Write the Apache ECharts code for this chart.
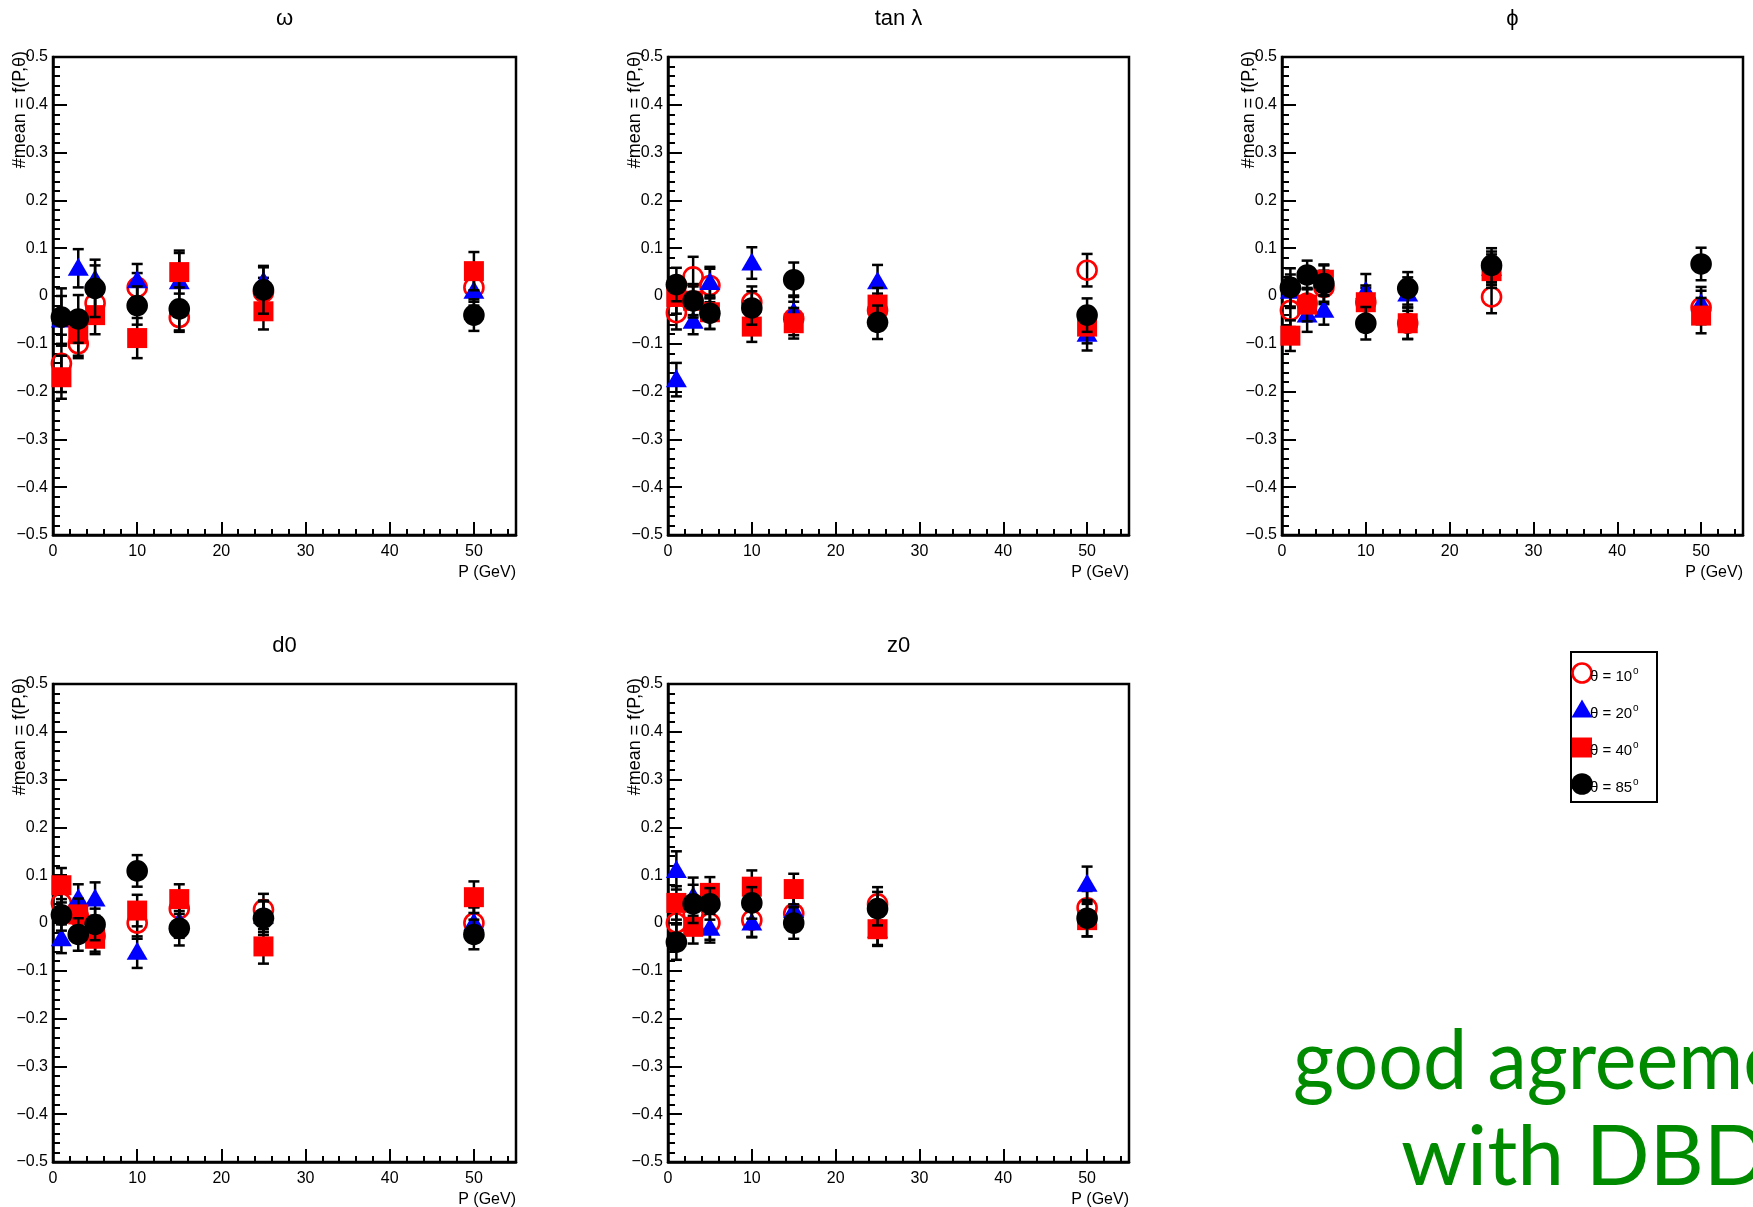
<!DOCTYPE html>
<html><head><meta charset="utf-8">
<script src="https://cdn.jsdelivr.net/npm/echarts@6/dist/echarts.min.js"></script>
<style>html,body{margin:0;padding:0;background:#fff}#c{width:1753px;height:1207px}</style>
</head><body><div id="c"></div>
<script>
// ---------------- DATA ----------------
const momenta = [1, 3, 5, 10, 15, 25, 50];
const panelTitles = ['ω', 'tan λ', 'ϕ', 'd0', 'z0'];
const seriesNames = ['θ = 10', 'θ = 20', 'θ = 40', 'θ = 85'];
const yAxisTitle = '#mean = f(P,θ)';
const xAxisTitle = 'P (GeV)';
const noteLines = ['good agreement', 'with DBD'];

// omega
const omega_t10 = [-0.141, -0.100, -0.015, 0.018, -0.045, 0.008, 0.018];
const omega_t20 = [-0.050, 0.058, 0.034, 0.032, 0.030, 0.030, 0.010];
const omega_t40 = [-0.170, -0.080, -0.040, -0.088, 0.050, -0.032, 0.052];
const omega_t85 = [-0.044, -0.048, 0.016, -0.020, -0.027, 0.013, -0.040];
const omega_e10 = [0.060, 0.030, 0.030, 0.030, 0.030, 0.030, 0.030];
const omega_e20 = [0.050, 0.040, 0.030, 0.035, 0.060, 0.030, 0.030];
const omega_e40 = [0.045, 0.045, 0.040, 0.042, 0.045, 0.038, 0.040];
const omega_e85 = [0.060, 0.050, 0.060, 0.040, 0.045, 0.050, 0.033];
// tan lambda
const tanl_t10 = [-0.035, 0.040, 0.022, -0.013, -0.047, -0.030, 0.054];
const tanl_t20 = [-0.175, -0.053, 0.028, 0.069, -0.034, 0.030, -0.080];
const tanl_t40 = [-0.002, -0.010, -0.034, -0.064, -0.057, -0.018, -0.064];
const tanl_t85 = [0.024, -0.010, -0.036, -0.025, 0.034, -0.055, -0.040];
const tanl_e10 = [0.035, 0.042, 0.035, 0.033, 0.035, 0.035, 0.034];
const tanl_e20 = [0.035, 0.027, 0.033, 0.033, 0.035, 0.035, 0.034];
const tanl_e40 = [0.035, 0.035, 0.035, 0.032, 0.032, 0.035, 0.035];
const tanl_e85 = [0.035, 0.030, 0.033, 0.035, 0.036, 0.035, 0.035];
// phi
const phi_t10 = [-0.030, -0.015, 0.018, -0.013, -0.057, -0.002, -0.024];
const phi_t20 = [0.010, -0.040, -0.030, 0.010, 0.004, 0.058, -0.016];
const phi_t40 = [-0.083, -0.018, 0.034, -0.013, -0.057, 0.052, -0.041];
const phi_t85 = [0.018, 0.044, 0.026, -0.057, 0.016, 0.064, 0.067];
const phi_e10 = [0.035, 0.030, 0.035, 0.030, 0.033, 0.034, 0.035];
const phi_e20 = [0.035, 0.035, 0.030, 0.036, 0.035, 0.035, 0.035];
const phi_e40 = [0.032, 0.035, 0.032, 0.035, 0.033, 0.035, 0.037];
const phi_e85 = [0.040, 0.030, 0.038, 0.034, 0.034, 0.036, 0.034];
// d0
const d0_t10 = [0.042, 0.015, -0.027, 0.000, 0.030, 0.028, 0.000];
const d0_t20 = [-0.033, 0.050, 0.050, -0.061, 0.002, 0.014, 0.000];
const d0_t40 = [0.079, 0.018, -0.033, 0.026, 0.050, -0.049, 0.054];
const d0_t85 = [0.017, -0.024, -0.003, 0.109, -0.011, 0.010, -0.024];
const d0_e10 = [0.033, 0.033, 0.033, 0.033, 0.033, 0.033, 0.033];
const d0_e20 = [0.030, 0.031, 0.035, 0.033, 0.033, 0.033, 0.033];
const d0_e40 = [0.036, 0.033, 0.032, 0.033, 0.031, 0.036, 0.033];
const d0_e85 = [0.033, 0.034, 0.033, 0.033, 0.036, 0.035, 0.031];
// z0
const z0_t10 = [0.000, 0.020, 0.000, 0.006, 0.020, 0.040, 0.032];
const z0_t20 = [0.110, 0.055, -0.011, 0.000, 0.026, -0.015, 0.081];
const z0_t40 = [0.042, -0.008, 0.063, 0.076, 0.071, -0.013, 0.006];
const z0_t85 = [-0.040, 0.040, 0.040, 0.042, 0.000, 0.030, 0.010];
const z0_e10 = [0.035, 0.035, 0.035, 0.035, 0.035, 0.035, 0.035];
const z0_e20 = [0.040, 0.040, 0.030, 0.030, 0.035, 0.033, 0.037];
const z0_e40 = [0.035, 0.035, 0.033, 0.034, 0.032, 0.033, 0.034];
const z0_e85 = [0.037, 0.040, 0.033, 0.033, 0.033, 0.035, 0.038];

// ---------------- BUILD ----------------
const panelValues = [
  [omega_t10, omega_t20, omega_t40, omega_t85],
  [tanl_t10, tanl_t20, tanl_t40, tanl_t85],
  [phi_t10, phi_t20, phi_t40, phi_t85],
  [d0_t10, d0_t20, d0_t40, d0_t85],
  [z0_t10, z0_t20, z0_t40, z0_t85]
];
const panelErrors = [
  [omega_e10, omega_e20, omega_e40, omega_e85],
  [tanl_e10, tanl_e20, tanl_e40, tanl_e85],
  [phi_e10, phi_e20, phi_e40, phi_e85],
  [d0_e10, d0_e20, d0_e40, d0_e85],
  [z0_e10, z0_e20, z0_e40, z0_e85]
];

const FONT = '"Liberation Sans", Arial, Helvetica, sans-serif';
const layout = [
  {left: 53, top: 57, width: 463, height: 478},
  {left: 668, top: 57, width: 461, height: 478},
  {left: 1282, top: 57, width: 461, height: 478},
  {left: 53, top: 684, width: 463, height: 478},
  {left: 668, top: 684, width: 461, height: 478}
];
const RED = '#ff0000', BLUE = '#0000ff', BLACK = '#000000';

function markerShape(kind, cx, cy) {
  if (kind === 0) return {type: 'circle', shape: {cx, cy, r: 9.5}, style: {fill: 'none', stroke: RED, lineWidth: 2.6}};
  if (kind === 1) return {type: 'polygon', shape: {points: [[cx, cy - 10.5], [cx - 10.5, cy + 7.5], [cx + 10.5, cy + 7.5]]}, style: {fill: BLUE}};
  if (kind === 2) return {type: 'rect', shape: {x: cx - 10, y: cy - 10, width: 20, height: 20}, style: {fill: RED}};
  return {type: 'circle', shape: {cx, cy, r: 10.8}, style: {fill: BLACK}};
}

function makeRender(kind) {
  return function (params, api) {
    const x = api.value(0), y = api.value(1), e = api.value(2);
    const c = api.coord([x, y]);
    const hi = api.coord([x, y + e]);
    const lo = api.coord([x, y - e]);
    const ls = {stroke: BLACK, lineWidth: 2.5};
    const cap = 5.5;
    return {
      type: 'group',
      children: [
        {type: 'line', shape: {x1: c[0], y1: hi[1], x2: c[0], y2: lo[1]}, style: ls},
        {type: 'line', shape: {x1: c[0] - cap, y1: hi[1], x2: c[0] + cap, y2: hi[1]}, style: ls},
        {type: 'line', shape: {x1: c[0] - cap, y1: lo[1], x2: c[0] + cap, y2: lo[1]}, style: ls},
        markerShape(kind, c[0], c[1])
      ]
    };
  };
}

const grids = [], xAxes = [], yAxes = [], series = [], graphics = [];
layout.forEach((g, p) => {
  grids.push({left: g.left, top: g.top, width: g.width, height: g.height, show: true,
    borderColor: BLACK, borderWidth: 2.5, backgroundColor: 'transparent'});
  xAxes.push({
    gridIndex: p, type: 'value', min: 0, max: 55, interval: 10, position: 'bottom',
    axisLine: {show: true, onZero: false, lineStyle: {color: BLACK, width: 2.5}},
    axisTick: {show: true, inside: true, length: 13, lineStyle: {color: BLACK, width: 2}},
    axisLabel: {show: true, margin: 9, fontSize: 16, color: BLACK, fontFamily: FONT,
      showMaxLabel: false, formatter: v => (v > 50 ? '' : String(v))},
    splitLine: {show: false}
  });
  xAxes.push({
    gridIndex: p, type: 'value', min: 0, max: 55, interval: 2, position: 'bottom',
    axisLine: {show: false, onZero: false},
    axisTick: {show: true, inside: true, length: 6, lineStyle: {color: BLACK, width: 2}},
    axisLabel: {show: false}, splitLine: {show: false}
  });
  yAxes.push({
    gridIndex: p, type: 'value', min: -0.5, max: 0.5, interval: 0.1,
    axisLine: {show: true, onZero: false, lineStyle: {color: BLACK, width: 2.5}},
    axisTick: {show: true, inside: true, length: 14, lineStyle: {color: BLACK, width: 2}},
    minorTick: {show: true, splitNumber: 5, length: 7, lineStyle: {color: BLACK, width: 2}},
    axisLabel: {show: true, margin: 5, fontSize: 16, color: BLACK, fontFamily: FONT,
      formatter: v => {
        const r = Math.round(v * 10) / 10;
        if (r === 0) return '0';
        return (r < 0 ? '\u2212' : '') + Math.abs(r).toFixed(1);
      }},
    splitLine: {show: false}, minorSplitLine: {show: false}
  });
  for (let k = 0; k < 4; k++) {
    series.push({
      type: 'custom', name: seriesNames[k], xAxisIndex: p * 2, yAxisIndex: p,
      renderItem: makeRender(k), clip: false,
      encode: {x: 0, y: 1},
      data: momenta.map((m, i) => [m, panelValues[p][k][i], panelErrors[p][k][i]]),
      z: 2 + k
    });
  }
  // panel title
  graphics.push({type: 'text', x: g.left + g.width / 2, y: g.top - 38, z: 10,
    style: {text: panelTitles[p], font: '22px ' + FONT, fill: BLACK, textAlign: 'center', textVerticalAlign: 'middle'}});
  // y axis title (rotated)
  graphics.push({type: 'text', x: g.left - 33, y: g.top - 6, rotation: Math.PI / 2, z: 10,
    style: {text: yAxisTitle, font: '18px ' + FONT, fill: BLACK, textAlign: 'right', textVerticalAlign: 'middle'}});
  // x axis title
  graphics.push({type: 'text', x: g.left + g.width, y: g.top + g.height + 38, z: 10,
    style: {text: xAxisTitle, font: '16px ' + FONT, fill: BLACK, textAlign: 'right', textVerticalAlign: 'middle'}});
});

// legend (ROOT TLegend style box)
const lgX = 1571, lgY = 652, lgW = 86, lgH = 150;
graphics.push({type: 'rect', shape: {x: lgX, y: lgY, width: lgW, height: lgH}, z: 10,
  style: {fill: '#fff', stroke: BLACK, lineWidth: 2}});
const lgRows = [673, 710, 747.5, 784];
seriesNames.forEach((name, k) => {
  const cy = lgRows[k], cx = lgX + 11;
  const m = markerShape(k, cx, cy);
  m.z = 11;
  graphics.push(m);
  graphics.push({type: 'text', x: lgX + 19, y: cy + 2, z: 12,
    style: {text: '{a|' + name + '}{s|o}', fill: BLACK, textAlign: 'left', textVerticalAlign: 'middle',
      rich: {a: {font: '15px ' + FONT, fill: BLACK, verticalAlign: 'bottom'},
             s: {font: '10px ' + FONT, fill: BLACK, verticalAlign: 'top', padding: [0, 0, 8, 1]}}}});
});

// green note
graphics.push({type: 'text', x: 1293, y: 1062, z: 10, scaleX: 0.94,
  style: {text: noteLines[0], font: '84px Lato, "Open Sans", sans-serif', fill: '#008a00', textAlign: 'left', textVerticalAlign: 'middle'}});
graphics.push({type: 'text', x: 1401, y: 1158, z: 10,
  style: {text: noteLines[1], font: '84px Lato, "Open Sans", sans-serif', fill: '#008a00', textAlign: 'left', textVerticalAlign: 'middle'}});

const chart = echarts.init(document.getElementById('c'), null, {renderer: 'canvas'});
chart.setOption({
  backgroundColor: '#ffffff',
  animation: false,
  grid: grids, xAxis: xAxes, yAxis: yAxes, series: series,
  graphic: {elements: graphics}
});
</script></body></html>
